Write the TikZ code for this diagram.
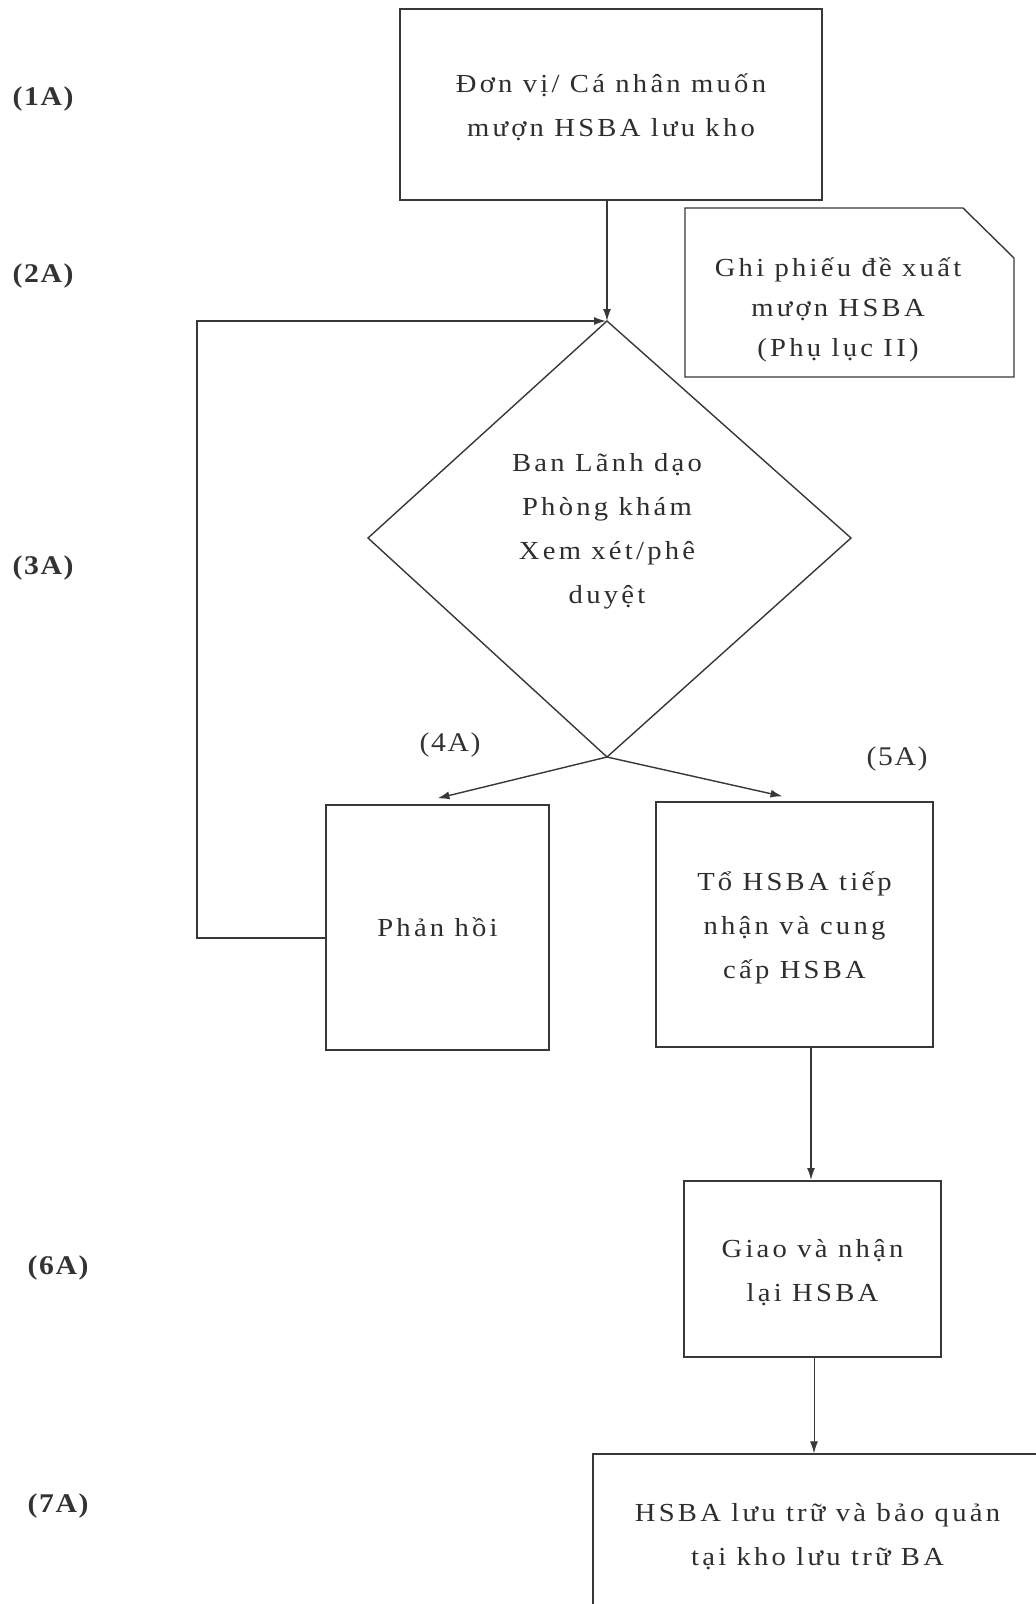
\documentclass[tikz,border=0pt]{standalone}
\usepackage{fontspec}
\setmainfont{Liberation Serif}[LetterSpace=12.5, FakeStretch=1.1]
\newfontfamily\labfont{Liberation Serif}[LetterSpace=6, FakeStretch=1.1]
\usetikzlibrary{arrows.meta}
\begin{document}
\begin{tikzpicture}[x=1pt,y=-1pt,
  ln/.style={draw=black!78, line width=1.4pt},
  box/.style={ln, rectangle, inner sep=0pt, align=center,
    font=\fontsize{26}{44}\selectfont, text=black!82},
  txt/.style={inner sep=0pt, align=center, font=\fontsize{26}{44}\selectfont, text=black!82},
  lab/.style={inner sep=0pt, font=\labfont\fontsize{27}{30}\selectfont\bfseries, text=black!80},
  slab/.style={inner sep=0pt, font=\labfont\fontsize{27}{30}\selectfont, text=black!80},
  arr/.style={ln, -{Latex[length=12pt,width=8pt]}},
  thinarr/.style={draw=black!78, line width=0.9pt, -{Latex[length=12pt,width=8pt]}}]
\useasboundingbox (0,0) rectangle (1036,1604);
\clip (0,0) rectangle (1036,1604);
\fill[white] (0,0) rectangle (1036,1604);

% boxes
\node[box, minimum width=422pt, minimum height=191pt] (b1) at (611,104.5) {};
\node[txt] (b1t) at (611,107.5) {Đơn vị/ Cá nhân muốn\\mượn HSBA lưu kho};
\draw[ln] (685,208) -- (963,208) -- (1014,258) -- (1014,377) -- (685,377) -- cycle;
\node[txt, font=\fontsize{26}{40}\selectfont] (note) at (838,310) {Ghi phiếu đề xuất\\mượn HSBA\\(Phụ lục II)};

% diamond
\coordinate (dtop) at (607,321);
\coordinate (dleft) at (368,538);
\coordinate (dright) at (851,538);
\coordinate (dbot) at (607,757);
\draw[ln] (dtop) -- (dright) -- (dbot) -- (dleft) -- cycle;
\node[txt] (dtext) at (607,531) {Ban Lãnh dạo\\Phòng khám\\Xem xét/phê\\duyệt};

\node[box, minimum width=223pt, minimum height=245pt] (ph) at (437.5,927.5) {Phản hồi};
\node[box, minimum width=277pt, minimum height=245pt] (to) at (794.5,924.5) {};
\node[txt] (tot) at (794.5,927.5) {Tổ HSBA tiếp\\nhận và cung\\cấp HSBA};
\node[box, minimum width=257pt, minimum height=176pt] (gi) at (812.5,1269) {};
\node[txt] (git) at (812.5,1273) {Giao và nhận\\lại HSBA};
\node[box, minimum width=449pt, minimum height=166pt] (hs) at (817.5,1537)
  {HSBA lưu trữ và bảo quản\\tại kho lưu trữ BA};

% labels
\node[lab] (l1) at (43,99) {(1A)};
\node[lab] (l2) at (43,276) {(2A)};
\node[lab] (l3) at (43,568) {(3A)};
\node[slab] (l4) at (450,745) {(4A)};
\node[slab] (l5) at (897,759) {(5A)};
\node[lab] (l6) at (58,1268) {(6A)};
\node[lab] (l7) at (58,1506) {(7A)};

% connectors
\draw[arr] (b1.south -| dtop) -- (dtop);
\draw[arr] ([yshift=-10.5pt]ph.west) -- (197,938) |- ([xshift=-1pt]dtop);
\draw[arr] (dbot) -- ([yshift=6pt]ph.north);
\draw[arr] (dbot) -- ([xshift=-12pt,yshift=5pt]to.north);
\draw[arr] (to.south -| 811,0) -- (811,1180);
\draw[thinarr] (gi.south -| 814,0) -- (hs.north -| 814,0);
\end{tikzpicture}
\end{document}
